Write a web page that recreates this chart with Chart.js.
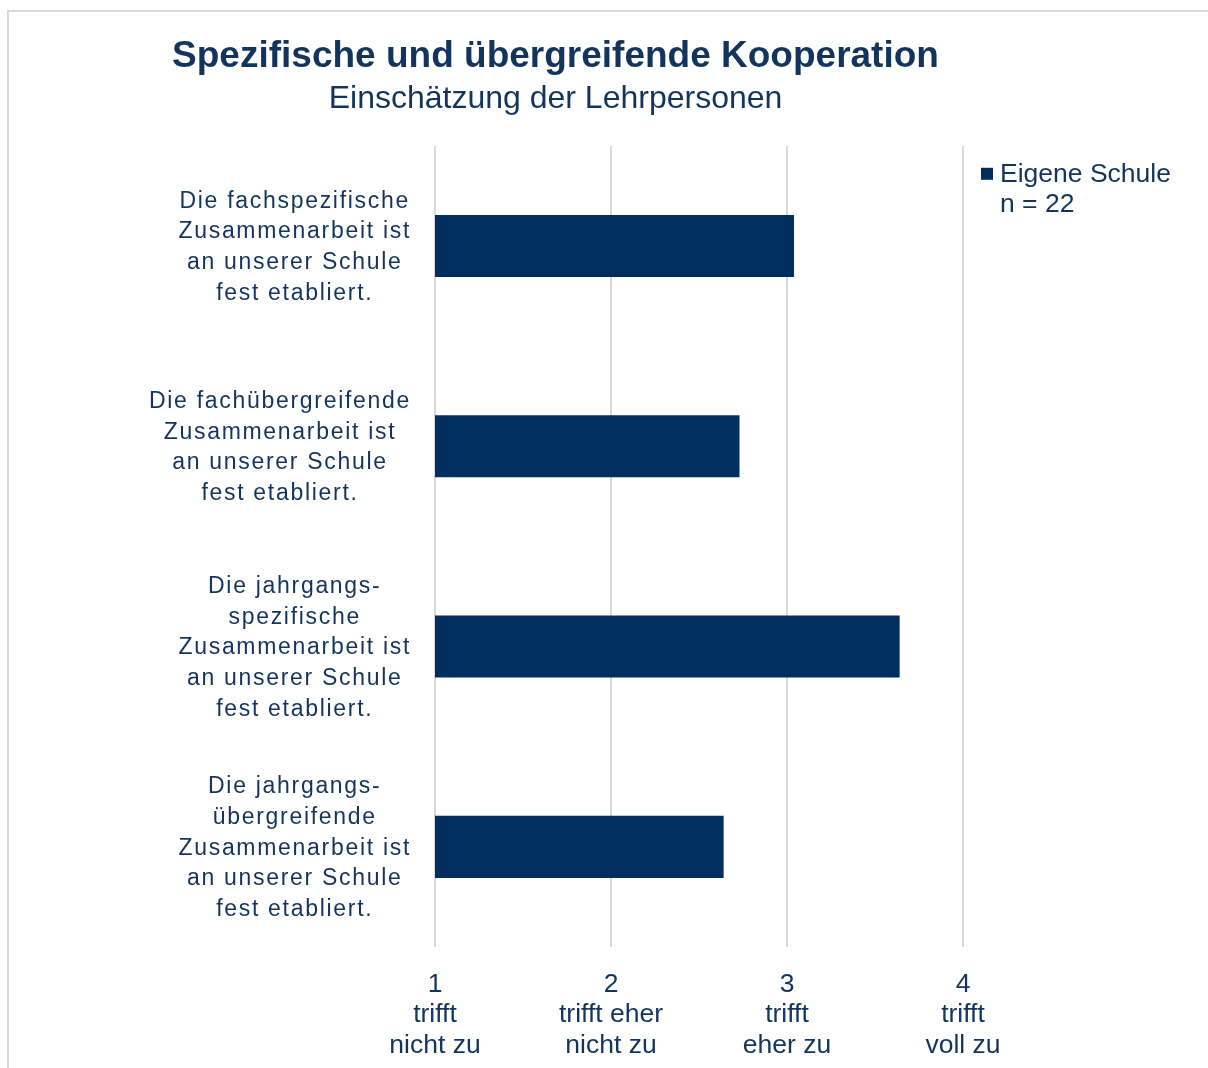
<!DOCTYPE html>
<html>
<head>
<meta charset="utf-8">
<script src="https://cdn.jsdelivr.net/npm/chart.js@4.4.1/dist/chart.umd.min.js"></script>
<style>
    html, body { margin: 0; padding: 0; background: #fff; }
    .frame { position: absolute; left: 7px; top: 10px; width: 1400px; height: 1300px; border: 2px solid #d9d9d9; }
    .wrap { position: absolute; left: 0; top: 0; width: 1208px; height: 1068px; }
</style>
</head>
<body>
<div class="frame"></div>
<div class="wrap"><canvas id="chart"></canvas></div>
<script>
const categories = [
    ["Die fachspezifische", "Zusammenarbeit ist", "an unserer Schule", "fest etabliert."],
    ["Die fachübergreifende", "Zusammenarbeit ist", "an unserer Schule", "fest etabliert."],
    ["Die jahrgangs-", "spezifische", "Zusammenarbeit ist", "an unserer Schule", "fest etabliert."],
    ["Die jahrgangs-", "übergreifende", "Zusammenarbeit ist", "an unserer Schule", "fest etabliert."]
]
const values = [3.04, 2.73, 3.64, 2.64]
const scaleLabels = {
    1: ["1", "trifft", "nicht zu"],
    2: ["2", "trifft eher", "nicht zu"],
    3: ["3", "trifft", "eher zu"],
    4: ["4", "trifft", "voll zu"]
}
const legendLines = ["Eigene Schule", "n = 22"]

const textColor = "#13345c"
const barColor = "#002f5f"
const fontFamily = "'Liberation Sans', Arial, sans-serif"

// y labels: centered block, right aligned to the axis, slightly spaced letters
const categoryLabels = {
    id: "categoryLabels",
    afterDraw(chart) {
        const ctx = chart.ctx
        const yScale = chart.scales.y
        const right = chart.chartArea.left - 24
        ctx.save()
        ctx.font = "23px " + fontFamily
        ctx.letterSpacing = "1.7px"
        ctx.fillStyle = textColor
        ctx.textAlign = "center"
        ctx.textBaseline = "middle"
        categories.forEach((lines, i) => {
            const maxW = Math.max(...lines.map(l => ctx.measureText(l).width))
            const cx = right - maxW / 2
            const cy = yScale.getPixelForValue(i) + 1.5
            const lh = 30.7
            lines.forEach((line, j) => {
                ctx.fillText(line, cx, cy + (j - (lines.length - 1) / 2) * lh)
            })
        })
        ctx.restore()
    }
}

const sideLegend = {
    id: "sideLegend",
    afterDraw(chart) {
        const ctx = chart.ctx
        const x = chart.chartArea.right + 18
        const y = chart.chartArea.top + 22
        ctx.save()
        ctx.fillStyle = barColor
        ctx.fillRect(x, y, 12, 12)
        ctx.font = "26.5px " + fontFamily
        ctx.fillStyle = textColor
        ctx.textBaseline = "middle"
        legendLines.forEach((line, j) => {
            ctx.fillText(line, x + 19, y + 6.5 + j * 30.5)
        })
        ctx.restore()
    }
}

const ctx = document.getElementById("chart").getContext("2d")
new Chart(ctx, {
    type: "bar",
    data: {
        labels: categories,
        datasets: [{
            label: legendLines[0],
            data: values,
            backgroundColor: barColor,
            borderWidth: 0,
            categoryPercentage: 1,
            barPercentage: 0.31
        }]
    },
    options: {
        indexAxis: "y",
        responsive: true,
        maintainAspectRatio: false,
        animation: false,
        layout: {
            padding: { left: 148, right: 245, top: 0, bottom: 0 }
        },
        scales: {
            x: {
                min: 1,
                max: 4,
                ticks: {
                    stepSize: 1,
                    color: textColor,
                    font: { family: fontFamily, size: 26.5, lineHeight: 1.15 },
                    padding: 22,
                    callback: value => scaleLabels[value]
                },
                grid: { color: "#d9d9d9", lineWidth: 2, drawTicks: false },
                border: { display: false },
                afterFit: scale => { scale.height = 121 }
            },
            y: {
                ticks: { display: false },
                grid: { display: false },
                border: { display: false },
                afterFit: scale => { scale.width = 287 }
            }
        },
        plugins: {
            legend: { display: false },
            tooltip: { enabled: false },
            title: {
                display: true,
                text: "Spezifische und übergreifende Kooperation",
                color: textColor,
                font: { family: fontFamily, size: 37, weight: "bold", lineHeight: 1.2 },
                padding: { top: 35, bottom: 0 }
            },
            subtitle: {
                display: true,
                text: "Einschätzung der Lehrpersonen",
                color: textColor,
                font: { family: fontFamily, size: 32, lineHeight: 1.2 },
                padding: { top: 1, bottom: 27 }
            }
        }
    },
    plugins: [categoryLabels, sideLegend]
})
</script>
</body>
</html>
